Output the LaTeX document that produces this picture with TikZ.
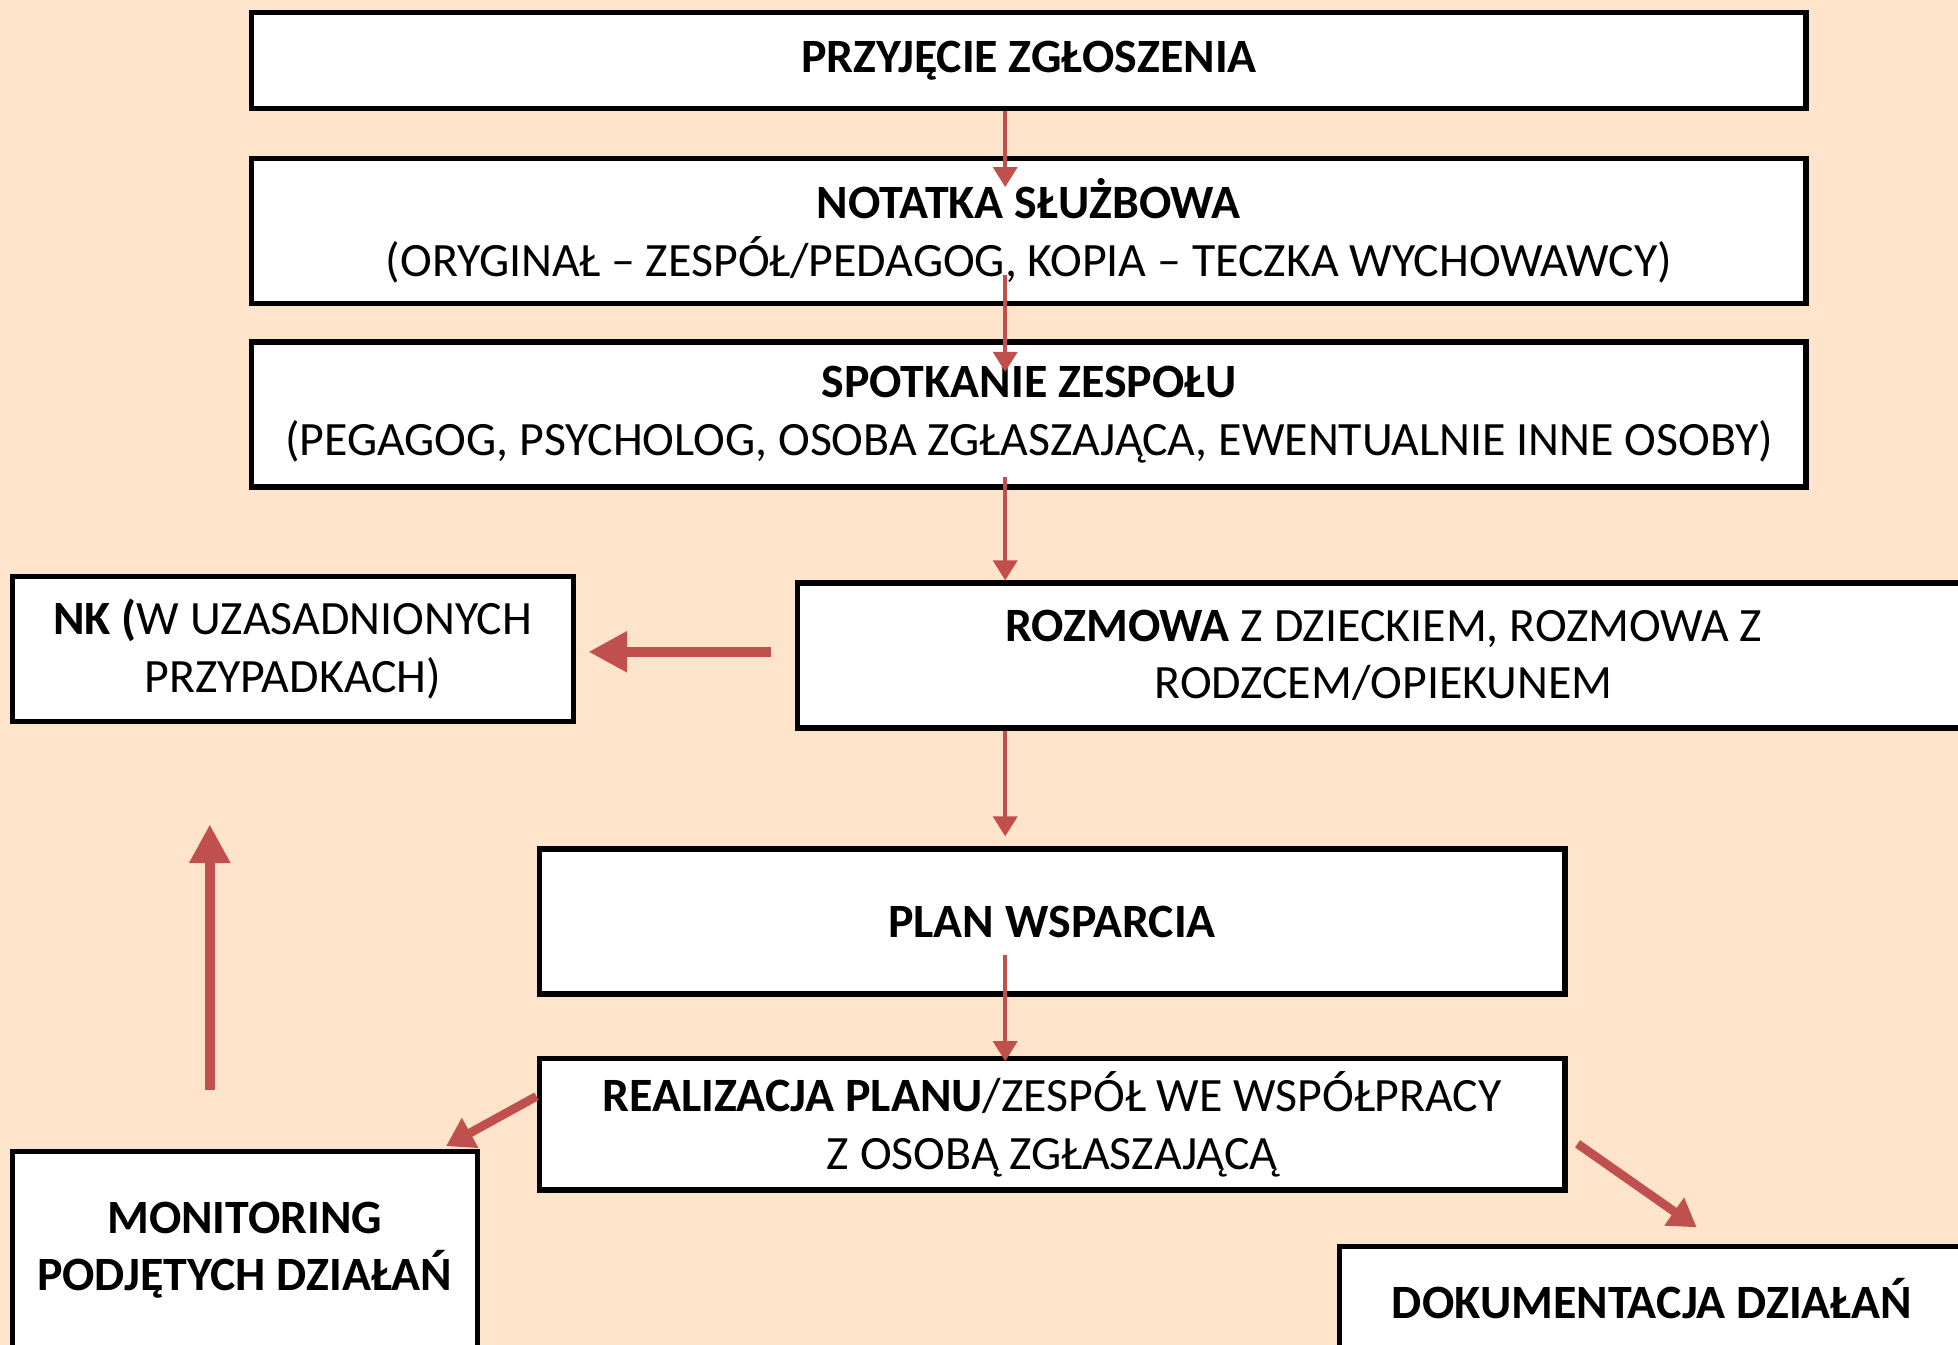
\documentclass[tikz,border=0pt]{standalone}
\usepackage{fontspec}
\setmainfont{Carlito}
\usetikzlibrary{arrows.meta,calc}
\definecolor{peach}{RGB}{253,228,202}
\definecolor{arrowred}{RGB}{192,80,77}
\begin{document}
\begin{tikzpicture} [x=0.01cm, y=-0.01cm,
  box/.style={draw, line width=1.2pt, fill=white, align=center, inner sep=0pt,
    font=\fontsize{10.9}{13.1}\selectfont},
  thinarrow/.style={arrowred, line width=1pt, -{Triangle[width=0.19cm, length=0.16cm]}},
  midarrow/.style={arrowred, line width=2pt, -{Triangle[width=0.26cm, length=0.22cm]}},
  thickarrow/.style={arrowred, line width=2.3pt, -{Triangle[width=0.31cm, length=0.31cm]}}]
\fill [peach] (0,0) rectangle (1568,1077);
\useasboundingbox (0,0) rectangle (1568,1077);
%\tikzstyle{every node}=[box];
\node [box, minimum width=12.44cm, minimum height=0.77cm] (zgl) at (824,48.5) {\textbf{PRZYJĘCIE ZGŁOSZENIA}};
\node [box, minimum width=12.44cm, minimum height=1.16cm] (notatka) at (824,185) {\textbf{NOTATKA SŁUŻBOWA}\\(ORYGINAŁ – ZESPÓŁ/PEDAGOG, KOPIA – TECZKA WYCHOWAWCY)};
\node [box, minimum width=12.44cm, minimum height=1.16cm] (spotkanie) at (824,332) {\textbf{SPOTKANIE ZESPOŁU}\\(PEGAGOG, PSYCHOLOG, OSOBA ZGŁASZAJĄCA, EWENTUALNIE INNE OSOBY)};
\node [box, minimum width=4.49cm, minimum height=1.16cm] (nk) at (234.5,520) {\textbf{NK (}W UZASADNIONYCH\\PRZYPADKACH)};
\node [box, minimum width=9.38cm, minimum height=1.16cm] (rozmowa) at (1108,525) {\textbf{ROZMOWA} Z DZIECKIEM, ROZMOWA Z\\RODZCEM/OPIEKUNEM};
\node [box, minimum width=8.21cm, minimum height=1.16cm] (plan) at (842.5,738) {\textbf{PLAN WSPARCIA}};
\node [box, minimum width=8.21cm, minimum height=1.05cm] (realizacja) at (842.5,900.5) {\textbf{REALIZACJA PLANU}/ZESPÓŁ WE WSPÓŁPRACY\\Z OSOBĄ ZGŁASZAJĄCĄ};
\node [box, minimum width=3.72cm, minimum height=1.58cm] (monitoring) at (196,1001) {\textbf{MONITORING}\\\textbf{PODJĘTYCH DZIAŁAŃ}};
\node [box, minimum width=5.00cm, minimum height=0.84cm] (dokumentacja) at (1323,1040) {\textbf{DOKUMENTACJA DZIAŁAŃ}};
\coordinate (ax) at (805,0);
% main line
\draw [thinarrow] (zgl.south -| ax) -- ($(notatka.north -| ax)+(0,25)$);
\draw [thinarrow] ($(notatka.south -| ax)+(0,-25)$) -- ($(spotkanie.north -| ax)+(0,26)$);
\draw [thinarrow] ($(spotkanie.south -| ax)+(0,-10)$) -- (rozmowa.north -| ax);
\draw [thinarrow] (rozmowa.south -| ax) -- ($(plan.north -| ax)+(0,-8)$);
\draw [thinarrow] ($(plan.south -| ax)+(0,-33)$) -- ($(realizacja.north -| ax)+(0,4)$);
% side arrows
\draw [thickarrow] ($(rozmowa.west)+(-19,-3)$) -- ($(nk.east)+(10,2)$);
\draw [thickarrow] ($(monitoring.north)+(-28,-47)$) -- ($(nk.south)+(-66.5,80)$);
\draw [midarrow] ($(realizacja.west)+(0,-22.5)$) -- ($(monitoring.north east)+(-27,-2)$);
\draw [midarrow] ($(realizacja.east)+(8,15.5)$) -- ($(dokumentacja.north west)+(288,-13)$);
\end{tikzpicture}
\end{document}
